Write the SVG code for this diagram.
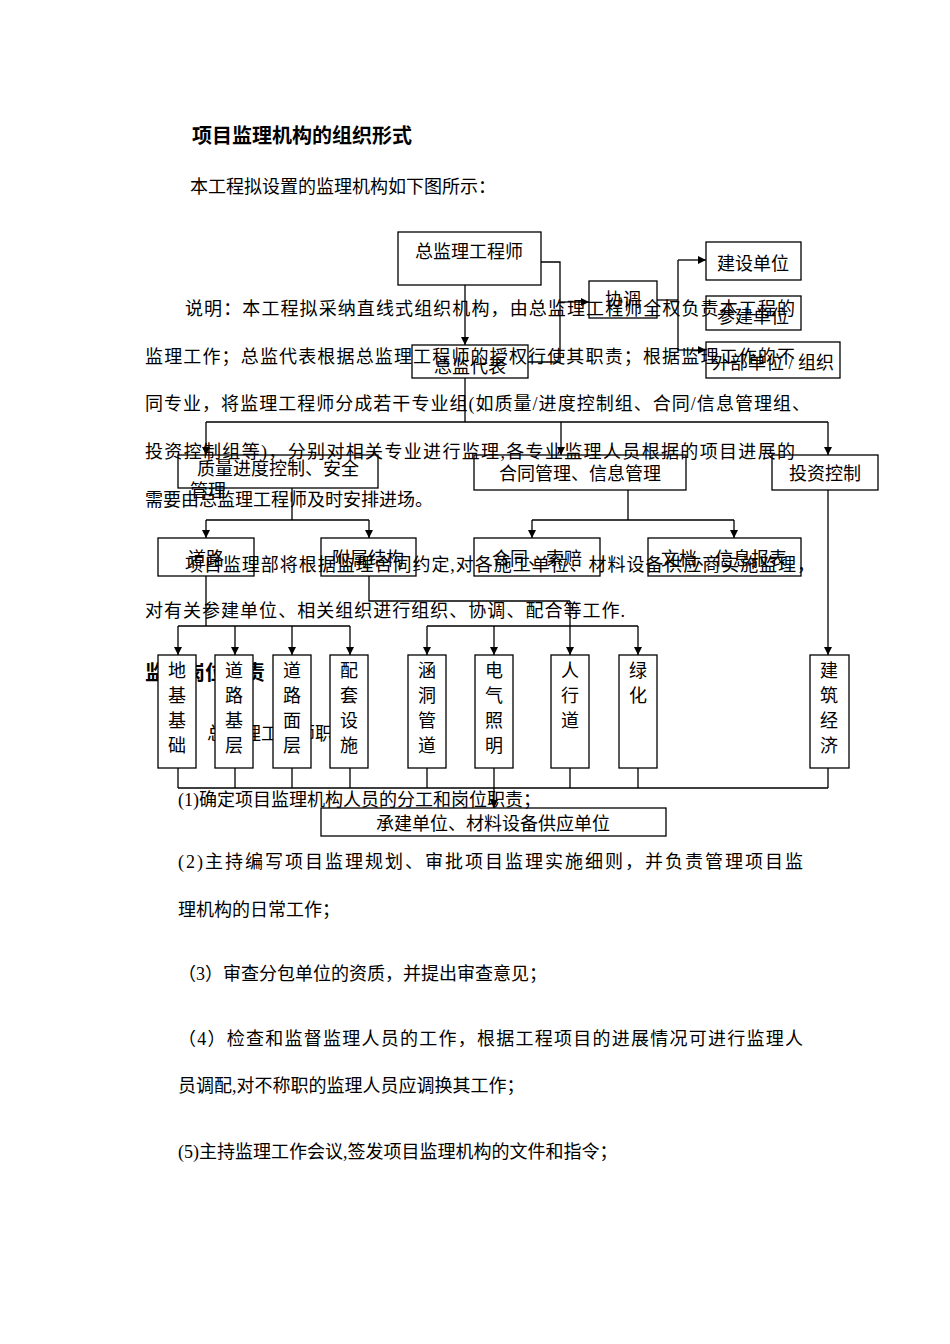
<svg xmlns="http://www.w3.org/2000/svg" width="950" height="1344" viewBox="0 0 950 1344">
<defs>
<marker id="ar" viewBox="0 0 10 10" refX="10" refY="5" markerWidth="8" markerHeight="8" orient="auto" markerUnits="userSpaceOnUse"><path d="M0,0L10,5L0,10z" fill="#000"/></marker>
<style>
text{font-family:"Liberation Serif","Noto Sans CJK SC",serif;fill:#000}
.t{font-size:18px}
.b{font-size:18px}
.h{font-size:20px;font-weight:bold;font-family:"Noto Sans CJK SC",sans-serif}
.n rect{fill:none;stroke:#000;stroke-width:1.3}
.w rect{fill:#fff}
.n text{font-size:18px;text-anchor:middle}
.c path{fill:none;stroke:#000;stroke-width:1.3}
.c .a{marker-end:url(#ar)}
</style>
</defs>
<rect width="950" height="1344" fill="#fff"/>
<text class="h" x="192" y="143">项目监理机构的组织形式</text>
<text class="t" x="190" y="193">本工程拟设置的监理机构如下图所示：</text>
<text class="t" x="185" y="315" textLength="610">说明：本工程拟采纳直线式组织机构，由总监理工程师全权负责本工程的</text>
<text class="t" x="145" y="363" textLength="650">监理工作；总监代表根据总监理工程师的授权行使其职责；根据监理工作的不</text>
<text class="t" x="145" y="410" textLength="665">同专业，将监理工程师分成若干专业组(如质量/进度控制组、合同/信息管理组、</text>
<text class="t" x="145" y="458" textLength="650">投资控制组等)，分别对相关专业进行监理,各专业监理人员根据的项目进展的</text>
<text class="t" x="145" y="506">需要由总监理工程师及时安排进场。</text>
<text class="t" x="185" y="571" textLength="630">项目监理部将根据监理合同约定,对各施工单位、材料设备供应商实施监理，</text>
<text class="t" x="145" y="617" textLength="480">对有关参建单位、相关组织进行组织、协调、配合等工作.</text>
<text class="h" x="145" y="680">监理岗位职责</text>
<text class="t" x="180" y="740">1、总监理工程师职责</text>
<text class="t" x="178" y="806">(1)确定项目监理机构人员的分工和岗位职责；</text>
<text class="t" x="178" y="868" textLength="625">(2)主持编写项目监理规划、审批项目监理实施细则，并负责管理项目监</text>
<text class="t" x="178" y="916">理机构的日常工作；</text>
<text class="t" x="178" y="980">（3）审查分包单位的资质，并提出审查意见；</text>
<text class="t" x="178" y="1045" textLength="625">（4）检查和监督监理人员的工作，根据工程项目的进展情况可进行监理人</text>
<text class="t" x="178" y="1092">员调配,对不称职的监理人员应调换其工作；</text>
<text class="t" x="178" y="1158">(5)主持监理工作会议,签发项目监理机构的文件和指令；</text>
<g class="c">
<path class="a" d="M465,285V345"/>
<path d="M541,262H560V362H528"/>
<path class="a" d="M560,302H589"/>
<path d="M657,300H678"/>
<path d="M678,260V350"/>
<path class="a" d="M678,260H706"/>
<path class="a" d="M678,350H706"/>
<path d="M465,378V422M206,422H828"/>
<path class="a" d="M206,422V455"/><path class="a" d="M561,422V455"/><path class="a" d="M828,422V455"/>
<path d="M292,488V520M206,520H369"/>
<path class="a" d="M206,520V538"/><path class="a" d="M369,520V538"/>
<path d="M628,490V520M532,520H734"/>
<path class="a" d="M532,520V538"/><path class="a" d="M734,520V538"/>
<path d="M206,576V626M178,626H350"/>
<path class="a" d="M178,626V655"/><path class="a" d="M235,626V655"/><path class="a" d="M292,626V655"/><path class="a" d="M350,626V655"/>
<path d="M369,576V601H570"/>
<path class="a" d="M570,601V655"/>
<path d="M427,626H638"/>
<path class="a" d="M427,626V655"/><path class="a" d="M494,626V655"/><path class="a" d="M638,626V655"/>
<path class="a" d="M828,490V655"/>
<path d="M178,768V788M235,768V788M292,768V788M350,768V788M427,768V788M570,768V788M638,768V788M828,768V788M178,788H828"/>
<path class="a" d="M494,768V808"/>
</g>
<g class="n" id="n-zj"><rect x="398" y="232" width="143" height="53"/><text x="469" y="258">总监理工程师</text></g>
<g class="n" id="n-xt"><rect x="589" y="281" width="68" height="37"/><text x="623" y="306">协调</text></g>
<g class="n" id="n-js"><rect x="706" y="242" width="95" height="38"/><text x="753" y="270">建设单位</text></g>
<g class="n" id="n-cj"><rect x="706" y="296" width="95" height="34"/><text x="753" y="323">参建单位</text></g>
<g class="n" id="n-wb"><rect x="706" y="342" width="134" height="36"/><text x="773" y="369">外部单位 / 组织</text></g>
<g class="n" id="n-db"><rect x="412" y="345" width="116" height="33"/><text x="470" y="373">总监代表</text></g>
<g class="n" id="n-zl"><rect x="178" y="455" width="200" height="33"/><text x="278" y="475">质量进度控制、安全</text><text x="208" y="497" style="text-anchor:middle">管理</text></g>
<g class="n" id="n-ht"><rect x="474" y="455" width="212" height="35"/><text x="580" y="480">合同管理、信息管理</text></g>
<g class="n" id="n-tz"><rect x="772" y="455" width="106" height="35"/><text x="825" y="480">投资控制</text></g>
<g class="n" id="n-dl"><rect x="158" y="538" width="96" height="38"/><text x="206" y="565">道路</text></g>
<g class="n" id="n-fs"><rect x="321" y="538" width="95" height="38"/><text x="368" y="565">附属结构</text></g>
<g class="n" id="n-sp"><rect x="474" y="538" width="126" height="38"/><text x="537" y="565">合同、索赔</text></g>
<g class="n" id="n-wd"><rect x="648" y="538" width="153" height="38"/><text x="724" y="565">文档、信息报表</text></g>
<g class="n w" id="n-dj"><rect x="158" y="655" width="38" height="113"/><text x="177" y="677">地</text><text x="177" y="702">基</text><text x="177" y="727">基</text><text x="177" y="752">础</text></g>
<g class="n w" id="n-jc"><rect x="215" y="655" width="38" height="113"/><text x="234" y="677">道</text><text x="234" y="702">路</text><text x="234" y="727">基</text><text x="234" y="752">层</text></g>
<g class="n w" id="n-mc"><rect x="273" y="655" width="38" height="113"/><text x="292" y="677">道</text><text x="292" y="702">路</text><text x="292" y="727">面</text><text x="292" y="752">层</text></g>
<g class="n w" id="n-pt"><rect x="330" y="655" width="38" height="113"/><text x="349" y="677">配</text><text x="349" y="702">套</text><text x="349" y="727">设</text><text x="349" y="752">施</text></g>
<g class="n w" id="n-hd"><rect x="408" y="655" width="38" height="113"/><text x="427" y="677">涵</text><text x="427" y="702">洞</text><text x="427" y="727">管</text><text x="427" y="752">道</text></g>
<g class="n w" id="n-dq"><rect x="475" y="655" width="38" height="113"/><text x="494" y="677">电</text><text x="494" y="702">气</text><text x="494" y="727">照</text><text x="494" y="752">明</text></g>
<g class="n w" id="n-rx"><rect x="551" y="655" width="38" height="113"/><text x="570" y="677">人</text><text x="570" y="702">行</text><text x="570" y="727">道</text></g>
<g class="n w" id="n-lh"><rect x="619" y="655" width="38" height="113"/><text x="638" y="677">绿</text><text x="638" y="702">化</text></g>
<g class="n w" id="n-jj"><rect x="810" y="655" width="39" height="113"/><text x="829" y="677">建</text><text x="829" y="702">筑</text><text x="829" y="727">经</text><text x="829" y="752">济</text></g>
<g class="n" id="n-cjdw"><rect x="321" y="808" width="345" height="28"/><text x="493" y="830">承建单位、材料设备供应单位</text></g>
</svg>
